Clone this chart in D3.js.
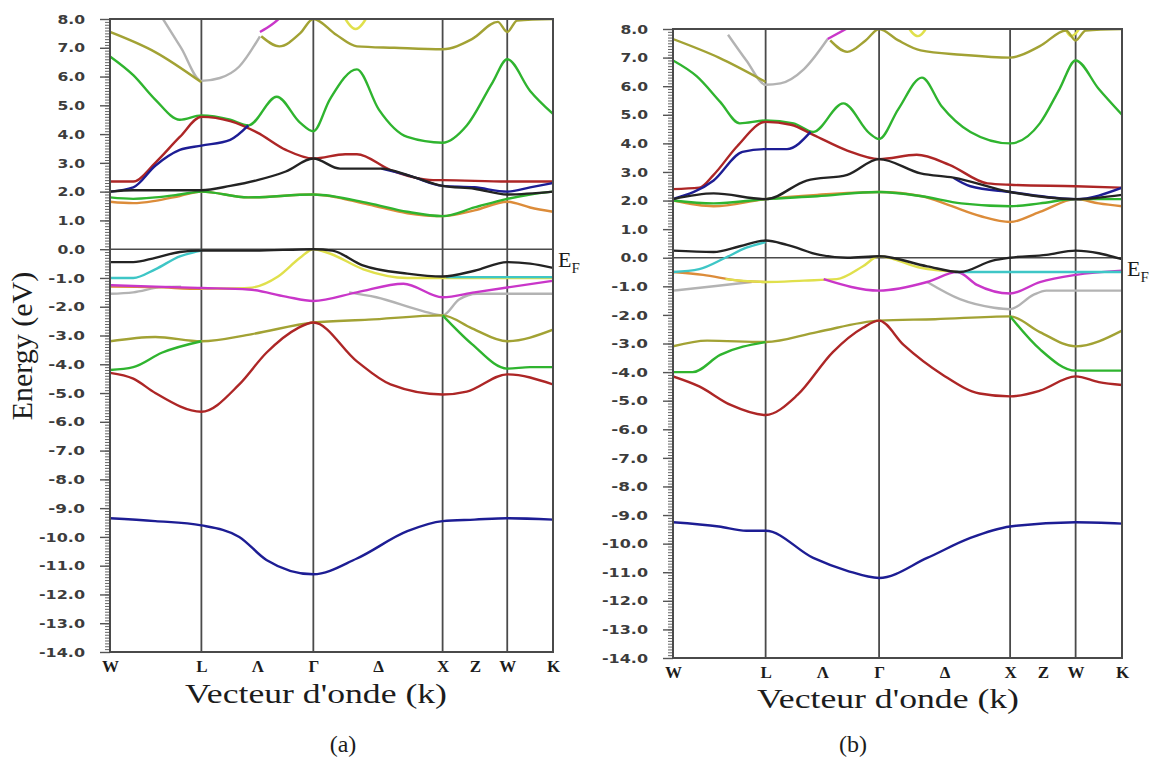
<!DOCTYPE html>
<html>
<head>
<meta charset="utf-8">
<script src="https://cdn.jsdelivr.net/npm/d3@7"></script>
<style>
body{margin:0;background:#fff;}
svg{display:block;}
.tk text{font-family:"DejaVu Sans",sans-serif;font-weight:bold;font-size:13px;fill:#3c3c3c;}
.tk path,.tk line{stroke:#555;}
.serif{font-family:"Liberation Serif","Times New Roman",serif;fill:#1c1c1c;}
</style>
</head>
<body>
<svg id="chart" width="1159" height="758"></svg>
<script>
// high symmetry points along the path W-L-Γ-X-W-K (path length units)
var kSym = [0, 0.707, 1.573, 2.573, 3.073, 3.427];
var kLabelPos = [0, 0.707, 1.14, 1.573, 2.073, 2.573, 2.823, 3.073, 3.427];
var kLabels = ["W", "L", "Λ", "Γ", "Δ", "X", "Z", "W", "K"];
var eTicks = d3.range(-14, 9, 1);
var eMinor = d3.range(-140, 81, 1).map(function(v){ return v / 10; });

// ---- panel (a) bands : [k, E]
var a_blue0 = [[0,-9.35],[0.35,-9.45],[0.707,-9.6],[1.0,-10.0],[1.21,-10.8],[1.573,-11.3],[1.91,-10.75],[2.3,-9.8],[2.573,-9.45],[2.82,-9.4],[3.073,-9.35],[3.427,-9.4]];
var a_redV = [[0,-4.3],[0.18,-4.5],[0.35,-5.0],[0.707,-5.65],[1.0,-4.7],[1.21,-3.6],[1.45,-2.75],[1.573,-2.55],[1.91,-3.9],[2.17,-4.7],[2.573,-5.05],[2.76,-4.95],[3.073,-4.35],[3.427,-4.7]];
var a_greenV = [[0,-4.2],[0.18,-4.1],[0.4,-3.6],[0.707,-3.2],null,[2.573,-2.3],[2.8,-3.3],[3.073,-4.15],[3.25,-4.1],[3.427,-4.1]];
var a_oliveV = [[0,-3.2],[0.35,-3.05],[0.707,-3.2],[1.1,-2.95],[1.573,-2.55],[2.0,-2.45],[2.573,-2.3],[2.8,-2.75],[3.073,-3.2],[3.427,-2.8]];
var a_grayV = [[0,-1.55],[0.18,-1.5],[0.4,-1.32],[0.55,-1.3],null,[1.85,-1.5],[2.06,-1.67],[2.42,-2.15],[2.573,-2.3],[2.7,-1.75],[2.84,-1.55],[3.073,-1.55],[3.427,-1.55]];
var a_magentaV = [[0,-1.25],[0.35,-1.3],[0.707,-1.35],[1.07,-1.4],[1.36,-1.65],[1.573,-1.8],[1.91,-1.5],[2.27,-1.2],[2.573,-1.67],[2.82,-1.5],[3.073,-1.33],[3.427,-1.1]];
var a_orangeV = [[0,-1.3],[0.35,-1.32],[0.707,-1.38],[1.07,-1.38]];
var a_yellowV = [[0.707,-1.38],[1.07,-1.35],[1.3,-0.95],[1.47,-0.3],[1.573,0],[1.7,-0.15],[1.96,-0.7],[2.3,-1.0],[2.573,-1.0],[3.073,-1.0],[3.427,-1.0]];
var a_cyanV = [[0,-1.0],[0.18,-1.0],[0.35,-0.7],[0.54,-0.25],[0.707,-0.05],null,[2.6,-0.97],[3.073,-0.97],[3.427,-0.97]];
var a_blackV = [[0,-0.45],[0.18,-0.45],[0.35,-0.3],[0.54,-0.1],[0.707,-0.05],[1.1,-0.05],[1.573,0],[1.72,-0.05],[1.95,-0.55],[2.3,-0.85],[2.573,-0.95],[2.82,-0.75],[3.073,-0.45],[3.25,-0.5],[3.427,-0.65]];
var a_orangeC = [[0,1.65],[0.18,1.6],[0.35,1.68],[0.54,1.85],[0.707,2.0],[1.07,1.8],[1.573,1.9],[2.0,1.55],[2.3,1.25],[2.573,1.15],[2.82,1.35],[3.073,1.65],[3.25,1.45],[3.427,1.3]];
var a_greenC = [[0,1.8],[0.18,1.75],[0.35,1.8],[0.54,1.9],[0.707,2.0],[1.07,1.8],[1.573,1.9],[2.0,1.6],[2.3,1.3],[2.573,1.15],[2.82,1.45],[3.073,1.75],[3.25,1.9],[3.427,2.0]];
var a_blackC = [[0,2.0],[0.18,2.05],[0.707,2.05],[0.93,2.2],[1.14,2.4],[1.36,2.7],[1.573,3.15],[1.78,2.8],[2.1,2.8],[2.32,2.55],[2.573,2.2],[2.82,2.1],[3.073,1.9],[3.427,2.0]];
var a_blueC = [[0,2.0],[0.18,2.15],[0.35,2.9],[0.54,3.45],[0.707,3.6],[0.93,3.8],[1.07,4.3],null,[2.1,2.8],[2.32,2.55],[2.573,2.2],[2.82,2.15],[3.073,2.0],[3.25,2.15],[3.427,2.3]];
var a_redC = [[0,2.35],[0.18,2.35],[0.35,3.0],[0.54,3.9],[0.707,4.6],[0.93,4.45],[1.14,4.05],[1.36,3.45],[1.573,3.15],[1.82,3.3],[1.91,3.3],[2.17,2.75],[2.5,2.4],[2.573,2.4],[3.073,2.35],[3.427,2.35]];
var a_greenC2 = [[0,6.7],[0.18,6.05],[0.35,5.2],[0.54,4.5],[0.707,4.65],[0.93,4.5],[1.07,4.3],[1.29,5.3],[1.47,4.4],[1.573,4.1],[1.7,5.2],[1.91,6.25],[2.08,4.85],[2.3,3.9],[2.573,3.7],[2.76,4.3],[2.96,5.8],[3.073,6.6],[3.25,5.5],[3.427,4.7]];
var a_oliveC = [[0,7.55],[0.35,6.85],[0.707,5.8],null,[1.17,7.4],[1.31,7.05],[1.47,7.5],[1.573,8.0],[1.75,7.45],[1.91,7.05],[2.2,7.0],[2.573,6.95],[2.8,7.3],[3.0,7.9],[3.073,7.55],[3.15,7.95],[3.427,8.0]];
var a_grayC = [[0.41,8.0],[0.55,7.0],[0.707,5.85],[0.85,5.95],[1.0,6.35],[1.16,7.4]];
var a_magentaC = [[1.16,7.55],[1.25,7.8],[1.38,8.3]];
var a_yellowC = [[1.8,8.15],[1.9,7.65],[2.0,8.15]];

// ---- panel (b) bands : [k, E]
var b_blue0 = [[0,-9.25],[0.35,-9.4],[0.56,-9.55],[0.707,-9.55],[1.07,-10.5],[1.33,-10.95],[1.573,-11.2],[1.94,-10.5],[2.27,-9.8],[2.573,-9.4],[3.073,-9.25],[3.427,-9.3]];
var b_redV = [[0,-4.15],[0.2,-4.5],[0.44,-5.15],[0.707,-5.5],[0.95,-4.8],[1.22,-3.3],[1.45,-2.45],[1.573,-2.2],[1.76,-3.05],[2.06,-4.1],[2.34,-4.75],[2.573,-4.85],[2.8,-4.65],[3.073,-4.15],[3.25,-4.35],[3.427,-4.45]];
var b_greenV = [[0,-4.0],[0.15,-4.0],[0.36,-3.4],[0.707,-2.95],null,[2.573,-2.05],[2.8,-3.2],[3.073,-3.95],[3.25,-3.95],[3.427,-3.95]];
var b_oliveV = [[0,-3.1],[0.26,-2.9],[0.707,-2.95],[1.1,-2.6],[1.573,-2.2],[2.0,-2.15],[2.573,-2.05],[2.8,-2.6],[3.073,-3.1],[3.427,-2.55]];
var b_grayV = [[0,-1.15],[0.31,-1.0],[0.6,-0.85],null,[1.94,-0.85],[2.19,-1.45],[2.45,-1.75],[2.573,-1.8],[2.75,-1.3],[2.85,-1.15],[3.427,-1.15]];
var b_orangeV = [[0,-0.5],[0.23,-0.6],[0.5,-0.8],[0.707,-0.85]];
var b_magentaV = [[1.15,-0.75],[1.573,-1.15],[1.94,-0.85],[2.17,-0.5],[2.32,-0.95],[2.573,-1.25],[2.8,-0.85],[3.073,-0.6],[3.427,-0.45]];
var b_yellowV = [[0.4,-0.75],[0.707,-0.85],[1.0,-0.8],[1.25,-0.75],[1.45,-0.3],[1.573,0.05],[1.89,-0.35],[2.17,-0.5]];
var b_cyanV = [[0,-0.5],[0.2,-0.4],[0.4,0.0],[0.56,0.35],[0.707,0.55],null,[2.15,-0.5],[2.573,-0.5],[3.073,-0.5],[3.427,-0.5]];
var b_blackV = [[0,0.25],[0.31,0.2],[0.51,0.4],[0.707,0.6],[0.87,0.45],[1.12,0.1],[1.33,0.0],[1.573,0.05],[1.94,-0.3],[2.19,-0.5],[2.44,-0.1],[2.573,0.0],[2.85,0.1],[3.073,0.25],[3.427,-0.05]];
var b_orangeC = [[0,2.0],[0.31,1.8],[0.707,2.05],[1.1,2.2],[1.573,2.3],[1.9,2.15],[2.1,1.85],[2.35,1.45],[2.573,1.25],[2.8,1.6],[3.073,2.05],[3.25,1.9],[3.427,1.8]];
var b_greenC = [[0,2.0],[0.31,1.9],[0.707,2.05],[1.1,2.15],[1.573,2.3],[1.9,2.15],[2.2,1.9],[2.573,1.8],[2.8,1.9],[3.073,2.05],[3.427,2.05]];
var b_blackC = [[0,2.05],[0.31,2.25],[0.707,2.05],[1.02,2.7],[1.33,2.9],[1.573,3.45],[1.89,2.95],[2.14,2.8],[2.573,2.3],[3.073,2.05],[3.427,2.2]];
var b_blueC = [[0,2.05],[0.31,2.7],[0.53,3.7],[0.707,3.8],[0.87,3.8],[1.05,4.4],null,[2.14,2.8],[2.27,2.5],[2.573,2.3],[3.073,2.05],[3.427,2.45]];
var b_redC = [[0,2.4],[0.2,2.45],[0.31,2.9],[0.49,3.9],[0.707,4.75],[0.9,4.65],[1.07,4.3],[1.33,3.75],[1.573,3.45],[1.86,3.6],[2.11,3.25],[2.4,2.6],[2.573,2.55],[3.073,2.5],[3.427,2.45]];
var b_greenC2 = [[0,6.9],[0.18,6.35],[0.36,5.45],[0.51,4.7],[0.707,4.8],[0.92,4.7],[1.07,4.4],[1.3,5.4],[1.5,4.35],[1.573,4.15],[1.72,5.2],[1.9,6.3],[2.05,5.3],[2.27,4.4],[2.573,4.0],[2.8,4.7],[2.95,5.9],[3.073,6.9],[3.25,5.9],[3.427,5.0]];
var b_oliveC = [[0,7.65],[0.35,7.0],[0.707,6.15],null,[1.2,7.6],[1.33,7.2],[1.47,7.6],[1.573,8.0],[1.72,7.6],[1.89,7.25],[2.2,7.1],[2.573,7.0],[2.8,7.4],[3.0,7.95],[3.073,7.6],[3.15,7.95],[3.427,8.0]];
var b_grayC = [[0.42,7.8],[0.56,6.9],[0.707,6.05],[0.82,6.1],[1.0,6.6],[1.18,7.65]];
var b_magentaC = [[1.18,7.65],[1.4,8.2]];
var b_yellowC = [[1.78,8.15],[1.87,7.75],[1.95,8.15],null,[2.98,8.15],[3.04,7.75],[3.12,8.15]];

var colorOf = {
    black: "#232323", blue: "#1d1d94", red: "#ad2626", green: "#2fb42f",
    olive: "#a2a234", gray: "#b3b3b3", magenta: "#c936c9", yellow: "#e0e04c",
    cyan: "#3ec6c6", orange: "#dc8c3a"
};

var bandsA = [[a_grayC,"gray"],[a_grayV,"gray"],[a_yellowC,"yellow"],[a_magentaC,"magenta"],[a_oliveC,"olive"],[a_greenC2,"green"],
    [a_orangeC,"orange"],[a_greenC,"green"],[a_redC,"red"],[a_blueC,"blue"],[a_blackC,"black"],
    [a_orangeV,"orange"],[a_yellowV,"yellow"],[a_magentaV,"magenta"],[a_cyanV,"cyan"],[a_blackV,"black"],
    [a_oliveV,"olive"],[a_greenV,"green"],[a_redV,"red"],[a_blue0,"blue"]];
var bandsB = [[b_grayC,"gray"],[b_grayV,"gray"],[b_yellowC,"yellow"],[b_magentaC,"magenta"],[b_oliveC,"olive"],[b_greenC2,"green"],
    [b_orangeC,"orange"],[b_greenC,"green"],[b_redC,"red"],[b_blueC,"blue"],[b_blackC,"black"],
    [b_orangeV,"orange"],[b_yellowV,"yellow"],[b_magentaV,"magenta"],[b_cyanV,"cyan"],[b_blackV,"black"],
    [b_oliveV,"olive"],[b_greenV,"green"],[b_redV,"red"],[b_blue0,"blue"]];

var svg = d3.select("#chart");

function panel(id, bands, box, txt){
    var x = d3.scaleLinear().domain([0, kSym[kSym.length-1]]).range([box.left, box.right]);
    var y = d3.scaleLinear().domain([-14, 8]).range([box.bottom, box.top]);
    var g = svg.append("g").attr("id", "panel-" + id);

    g.append("clipPath").attr("id", "clip-" + id)
        .append("rect")
        .attr("x", box.left).attr("y", box.top)
        .attr("width", box.right - box.left).attr("height", box.bottom - box.top);

    // minor + major ticks on the energy axis
    g.append("g").attr("class", "tk")
        .attr("transform", "translate(" + box.left + ",0)")
        .call(d3.axisLeft(y).tickValues(eMinor).tickSize(5).tickFormat(""))
        .call(function(s){ s.select(".domain").remove(); s.selectAll("line").attr("stroke-width", 0.9); });

    var ya = g.append("g").attr("class", "tk")
        .attr("transform", "translate(" + box.left + ",0)")
        .call(d3.axisLeft(y).tickValues(eTicks).tickSize(10).tickPadding(15)
            .tickFormat(function(d){ return d.toFixed(1); }));
    ya.select(".domain").remove();
    ya.selectAll("line").attr("stroke-width", 1.4);
    ya.selectAll("text").each(function(d){
        var s = d.toFixed(1);
        d3.select(this).attr("textLength", s.length * 9.2).attr("lengthAdjust", "spacingAndGlyphs");
    });

    // symmetry lines and Fermi level
    g.selectAll("line.sym").data(kSym.slice(1, -1)).join("line")
        .attr("class", "sym")
        .attr("x1", function(d){ return x(d); }).attr("x2", function(d){ return x(d); })
        .attr("y1", box.top).attr("y2", box.bottom)
        .attr("stroke", "#4a4a4a").attr("stroke-width", 1.8);
    g.append("line")
        .attr("x1", box.left).attr("x2", box.right)
        .attr("y1", y(0)).attr("y2", y(0))
        .attr("stroke", "#4a4a4a").attr("stroke-width", 1.6);

    var line = d3.line()
        .defined(function(d){ return d !== null; })
        .x(function(d){ return x(d[0]); })
        .y(function(d){ return y(d[1]); })
        .curve(d3.curveMonotoneX);

    g.append("g").attr("clip-path", "url(#clip-" + id + ")")
        .selectAll("path").data(bands).join("path")
        .attr("d", function(d){ return line(d[0]); })
        .attr("fill", "none")
        .attr("stroke", function(d){ return colorOf[d[1]]; })
        .attr("stroke-width", 2.4)
        .attr("stroke-linejoin", "round");

    g.append("rect")
        .attr("x", box.left).attr("y", box.top)
        .attr("width", box.right - box.left).attr("height", box.bottom - box.top)
        .attr("fill", "none").attr("stroke", "#4a4a4a").attr("stroke-width", 2);

    // k-point labels
    var xa = g.append("g")
        .attr("transform", "translate(0," + box.bottom + ")")
        .call(d3.axisBottom(x).tickValues(kLabelPos).tickSize(0).tickPadding(txt.kPad)
            .tickFormat(function(d, i){ return kLabels[i]; }));
    xa.select(".domain").remove();
    xa.selectAll("text")
        .attr("class", "serif")
        .style("font-size", "17px").style("font-weight", "bold").attr("fill", "#222");

    g.append("text").attr("class", "serif")
        .attr("x", txt.titleX).attr("y", txt.titleY)
        .attr("text-anchor", "middle")
        .attr("textLength", 262).attr("lengthAdjust", "spacingAndGlyphs")
        .style("font-size", "27px")
        .text("Vecteur d'onde (k)");

    g.append("text").attr("class", "serif")
        .attr("x", txt.capX).attr("y", 752)
        .attr("text-anchor", "middle")
        .style("font-size", "24px")
        .text("(" + id + ")");

    var ef = g.append("text").attr("class", "serif")
        .attr("x", box.right + 5).attr("y", y(0) + 18)
        .style("font-size", "22px")
        .text("E");
    ef.append("tspan").attr("dy", 6).style("font-size", "15px").text("F");
}

panel("a", bandsA, {left: 110, right: 553, top: 19, bottom: 652},
    {kPad: 8, titleX: 316, titleY: 703, capX: 343});
panel("b", bandsB, {left: 673, right: 1122, top: 29, bottom: 658},
    {kPad: 8, titleX: 888, titleY: 708, capX: 853});

svg.append("text").attr("class", "serif")
    .attr("transform", "translate(32,346) rotate(-90)")
    .attr("text-anchor", "middle")
    .style("font-size", "30px")
    .text("Energy (eV)");
</script>
</body>
</html>
